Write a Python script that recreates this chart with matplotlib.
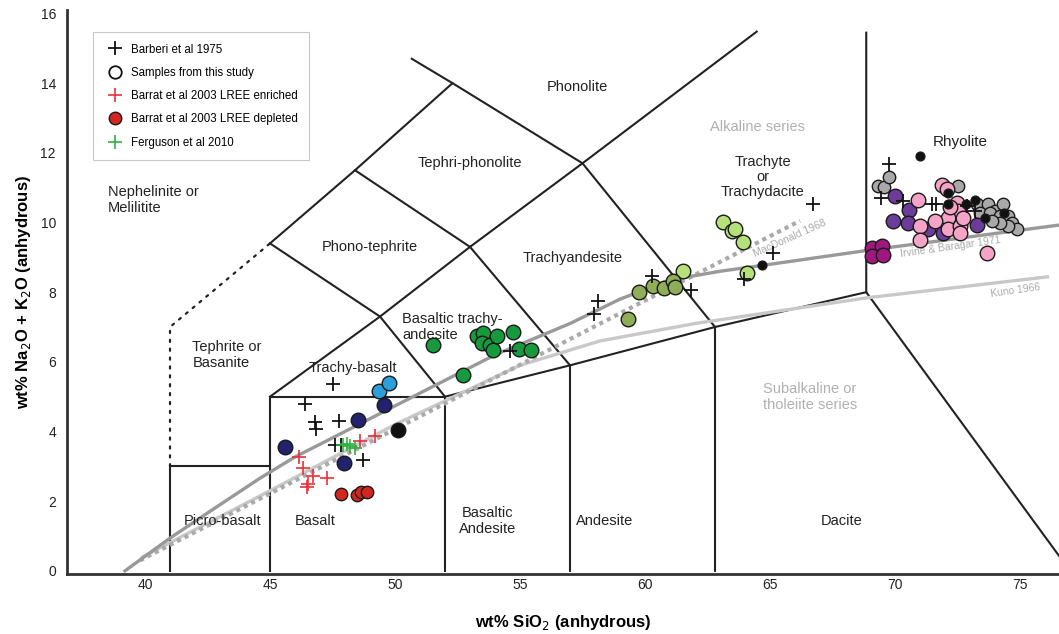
import matplotlib.pyplot as plt
from matplotlib.lines import Line2D

plt.rcParams['font.family'] = ['Liberation Sans', 'DejaVu Sans']

# --- TAS field boundaries (SiO2, Na2O+K2O) ---
solid_bounds = [
    [(41, 0), (41, 3), (45, 3)],
    [(45, 0), (45, 5), (52, 5), (52, 0)],
    [(52, 5), (57, 5.9), (57, 0)],
    [(57, 5.9), (62.8, 7.0), (62.8, 0)],
    [(62.8, 7.0), (68.85, 8.0), (68.85, 15.45)],
    [(68.85, 8.0), (77.0, 0)],
    [(45, 5), (49.4, 7.3), (52, 5)],
    [(49.4, 7.3), (53, 9.3), (57, 5.9)],
    [(53, 9.3), (57.5, 11.7), (62.8, 7.0)],
    [(45, 9.4), (48.4, 11.5), (53, 9.3)],
    [(45, 9.4), (49.4, 7.3)],
    [(48.4, 11.5), (52.3, 14.0), (57.5, 11.7)],
    [(50.67, 14.7), (52.3, 14.0)],
    [(57.5, 11.7), (64.47, 15.48)],
]
dotted_bound = [(41, 3), (41, 7), (45, 9.4)]

# alkaline / subalkaline dividing lines
irvine_x = [39.2, 41, 43, 44.6, 46, 48, 51.4, 54, 57, 59, 61, 63, 65, 68.9, 76.6]
irvine_y = [0, 0.94, 1.9, 2.66, 3.27, 4.0, 5.25, 6.2, 7.1, 7.8, 8.35, 8.6, 8.8, 9.2, 9.93]
macdonald_x = [39.8, 66.2]
macdonald_y = [0.3, 10.05]
kuno_x = [39.9, 45, 50, 55, 58.2, 62, 68.9, 76.1]
kuno_y = [0.4, 2.3, 4.2, 5.9, 6.6, 7.1, 7.84, 8.44]

# --- samples ---
barberi_x = [47.53, 46.4, 46.8, 46.84, 47.76, 47.6, 47.85, 48.73, 54.6, 58.13, 57.96,
             60.27, 61.83, 63.96, 65.13, 66.7, 69.77, 69.43, 70.33, 71.47, 71.64, 72.87, 73.2]
barberi_y = [5.37, 4.79, 4.26, 4.07, 4.29, 3.62, 3.62, 3.19, 6.30, 7.74, 7.36,
             8.46, 8.06, 8.39, 9.13, 10.52, 11.67, 10.71, 10.61, 10.52, 10.52, 10.47, 10.32]

red_cross_x = [46.17, 46.31, 46.73, 47.27, 46.53, 46.49, 48.6, 49.2]
red_cross_y = [3.27, 2.95, 2.71, 2.66, 2.5, 2.41, 3.72, 3.88]
red_dot_x = [47.84, 48.49, 48.64, 48.87]
red_dot_y = [2.21, 2.18, 2.25, 2.25]
green_cross_x = [47.93, 48.09, 48.2, 48.4]
green_cross_y = [3.62, 3.65, 3.59, 3.53]

navy_x = [45.6, 48.51, 49.57, 47.97]
navy_y = [3.55, 4.34, 4.77, 3.09]
blue_x = [49.37, 49.76]
blue_y = [5.15, 5.39]
black_big_x = [50.13]
black_big_y = [4.05]
dkgreen_x = [51.51, 52.73, 53.27, 53.53, 53.47, 53.8, 53.9, 54.07, 54.71, 54.97, 55.44]
dkgreen_y = [6.47, 5.61, 6.75, 6.83, 6.54, 6.49, 6.35, 6.73, 6.85, 6.37, 6.35]
olive_x = [59.33, 59.77, 60.33, 60.76, 61.13, 61.2]
olive_y = [7.23, 8.0, 8.19, 8.12, 8.31, 8.15]
ltgreen_x = [63.13, 63.47, 63.6, 63.93, 61.53, 64.07]
ltgreen_y = [10.01, 9.75, 9.8, 9.43, 8.6, 8.55]
magenta_x = [69.07, 69.47, 69.07, 69.53]
magenta_y = [9.27, 9.32, 9.05, 9.08]
purple_x = [70.0, 70.57, 69.93, 70.53, 71.33, 71.93, 73.27]
purple_y = [10.76, 10.35, 10.04, 9.99, 9.8, 9.7, 9.94]
gray_x = [69.33, 69.56, 69.77, 72.5, 73.27, 73.73, 74.0, 74.33, 73.4, 73.8, 74.2,
          74.53, 74.67, 74.87, 74.53, 74.2, 73.87]
gray_y = [11.04, 11.02, 11.3, 11.04, 10.52, 10.52, 10.33, 10.52, 10.28, 10.28, 10.18,
          10.18, 9.99, 9.8, 9.89, 9.99, 10.04]
pink_x = [71.87, 72.09, 70.93, 72.47, 72.53, 72.13, 71.6, 71.0, 71.0, 72.13, 72.6,
          72.73, 72.6, 73.67, 72.2]
pink_y = [11.09, 10.95, 10.66, 10.57, 10.33, 10.13, 10.04, 9.89, 9.51, 9.8, 9.89,
          10.13, 9.7, 9.13, 10.45]
black_dot_x = [64.68, 71.0, 72.1, 72.13, 72.84, 73.2, 73.6, 74.36]
black_dot_y = [8.79, 11.9, 10.85, 10.52, 10.52, 10.64, 10.13, 10.28]

fig = plt.figure(figsize=(10.59, 6.34), dpi=100)
ax = fig.add_axes([67 / 1059, 60 / 634, 1 - 67 / 1059, 564 / 634])
ax.set_xlim(36.88, 76.56)
ax.set_ylim(-0.09, 16.1)

for seg in solid_bounds:
    xs, ys = zip(*seg)
    ax.plot(xs, ys, color='#222222', lw=1.5, solid_joinstyle='miter', zorder=2)
xs, ys = zip(*dotted_bound)
ax.plot(xs, ys, color='#222222', lw=1.6, linestyle=(0, (1, 3)), dash_capstyle='round', zorder=2)

ax.plot(kuno_x, kuno_y, color='#c8c8c8', lw=2.4, zorder=2)
ax.plot(macdonald_x, macdonald_y, color='#aaaaaa', lw=3, linestyle=(0, (1, 1)), zorder=2)
ax.plot(irvine_x, irvine_y, color='#999999', lw=2.4, zorder=2)

# field names
lab = dict(fontsize=10.5, color='#222222', zorder=3)
ax.text(57.3, 13.88, 'Phonolite', ha='center', va='center', **lab)
ax.text(53.0, 11.7, 'Tephri-phonolite', ha='center', va='center', **lab)
ax.text(49.0, 9.3, 'Phono-tephrite', ha='center', va='center', **lab)
ax.text(57.1, 8.99, 'Trachyandesite', ha='center', va='center', **lab)
ax.text(50.3, 7.0, 'Basaltic trachy-\nandesite', ha='left', va='center', linespacing=1.15, **lab)
ax.text(48.3, 5.83, 'Trachy-basalt', ha='center', va='center', **lab)
ax.text(41.9, 6.2, 'Tephrite or\nBasanite', ha='left', va='center', linespacing=1.15, **lab)
ax.text(38.5, 10.65, 'Nephelinite or\nMelilitite', ha='left', va='center', linespacing=1.15, **lab)
ax.text(43.1, 1.43, 'Picro-basalt', ha='center', va='center', **lab)
ax.text(46.8, 1.43, 'Basalt', ha='center', va='center', **lab)
ax.text(53.7, 1.43, 'Basaltic\nAndesite', ha='center', va='center', linespacing=1.15, **lab)
ax.text(58.4, 1.43, 'Andesite', ha='center', va='center', **lab)
ax.text(67.85, 1.43, 'Dacite', ha='center', va='center', **lab)
ax.text(72.6, 12.3, 'Rhyolite', ha='center', va='center', fontsize=11, color='#222222', zorder=3)
ax.text(64.7, 11.3, 'Trachyte\nor\nTrachydacite', ha='center', va='center', linespacing=1.1, **lab)
ax.text(64.5, 12.75, 'Alkaline series', ha='center', va='center', fontsize=10.5, color='#b0b0b0')
ax.text(66.6, 5.0, 'Subalkaline or\ntholeiite series', ha='center', va='center',
        fontsize=10.5, color='#b0b0b0', linespacing=1.15)
ax.text(65.8, 9.55, 'MacDonald 1968', ha='center', va='center', fontsize=7.5,
        color='#aaaaaa', rotation=24)
ax.text(72.2, 9.3, 'Irvine & Baragar 1971', ha='center', va='center', fontsize=7.5,
        color='#aaaaaa', rotation=8)
ax.text(74.8, 8.05, 'Kuno 1966', ha='center', va='center', fontsize=7.5,
        color='#aaaaaa', rotation=8)

# sample markers
edge = '#1a1a1a'
def dots(x, y, color, s=110, lw=1.0):
    ax.scatter(x, y, s=s, c=color, edgecolors=edge, linewidths=lw, zorder=4)

dots(gray_x, gray_y, '#a9a9a9', s=80)
dots(purple_x, purple_y, '#6b3c99')
dots(magenta_x, magenta_y, '#a0177f')
dots(pink_x, pink_y, '#f5a3c6')
dots(black_dot_x, black_dot_y, '#111111', s=40)
dots(ltgreen_x, ltgreen_y, '#b6e07a')
dots(olive_x, olive_y, '#8fae57')
dots(dkgreen_x, dkgreen_y, '#169a3d')
dots(navy_x, navy_y, '#22226e')
dots(blue_x, blue_y, '#2b9fd9')
dots(black_big_x, black_big_y, '#111111')
dots(red_dot_x, red_dot_y, '#d2261e', s=80)

ax.scatter(barberi_x, barberi_y, marker='+', s=110, c='#111111', linewidths=1.3, zorder=5)
ax.scatter(red_cross_x, red_cross_y, marker='+', s=110, c='#e8303a', linewidths=1.2, zorder=5)
ax.scatter(green_cross_x, green_cross_y, marker='+', s=110, c='#2fb040', linewidths=1.2, zorder=5)

# legend
handles = [
    Line2D([], [], ls='', marker='+', ms=10, mew=1.3, color='#111111'),
    Line2D([], [], ls='', marker='o', ms=9, mew=1.3, mfc='white', mec='#111111'),
    Line2D([], [], ls='', marker='+', ms=10, mew=1.2, color='#e8303a'),
    Line2D([], [], ls='', marker='o', ms=9, mew=1.0, mfc='#d2261e', mec=edge),
    Line2D([], [], ls='', marker='+', ms=10, mew=1.2, color='#2fb040'),
]
names = ['Barberi et al 1975', 'Samples from this study', 'Barrat et al 2003 LREE enriched',
         'Barrat et al 2003 LREE depleted', 'Ferguson et al 2010']
leg = ax.legend(handles, names, loc='upper left', bbox_to_anchor=(26 / 992, 1 - 22 / 564),
                fontsize=8.3, frameon=True, fancybox=False, borderpad=1.0, labelspacing=0.98,
                handletextpad=0.4, handlelength=1.9, borderaxespad=0)
leg.get_frame().set_edgecolor('#bbbbbb')
leg.get_frame().set_linewidth(0.8)

for side in ['top', 'right']:
    ax.spines[side].set_visible(False)
for side in ['left', 'bottom']:
    ax.spines[side].set_linewidth(2)
    ax.spines[side].set_color('#333333')
ax.set_xticks([40, 45, 50, 55, 60, 65, 70, 75])
ax.set_yticks(range(0, 17, 2))
ax.tick_params(length=0, labelsize=10, labelcolor='#222222')
ax.tick_params(axis='x', pad=3)
ax.tick_params(axis='y', pad=8)

ax.set_xlabel('wt% SiO$_2$ (anhydrous)', fontsize=12, fontweight='bold', labelpad=15)
ax.set_ylabel('wt% Na$_2$O + K$_2$O (anhydrous)', fontsize=12, fontweight='bold', labelpad=5)

fig.savefig('out.png', dpi=100)
